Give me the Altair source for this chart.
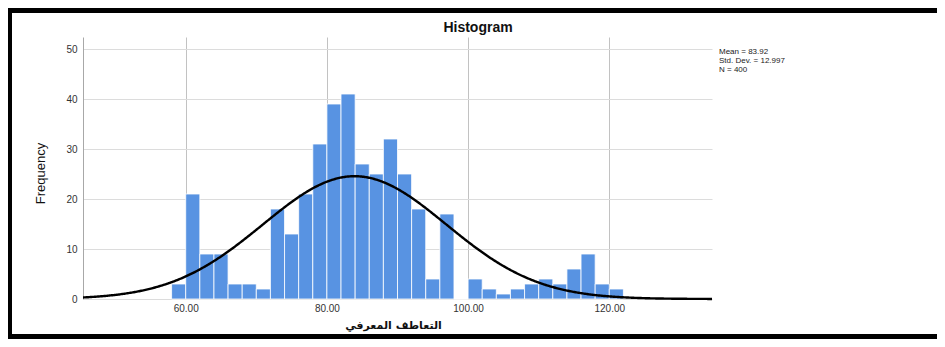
import altair as alt
import pandas as pd

# ---- data ----
bin_start = list(range(58, 122, 2))
counts = [3, 21, 9, 9, 3, 3, 2, 18, 13, 21, 31, 39, 41, 27, 25, 32,
          25, 18, 4, 17, 0, 4, 2, 1, 2, 3, 4, 3, 6, 9, 3, 2]
bin_width = 2
mean_val = 83.92
sd_val = 12.997
n_val = 400
x_ticks = [60, 80, 100, 120]
y_ticks = [0, 10, 20, 30, 40, 50]
x_domain = [45.45, 134.55]
y_domain = [0, 52.4]
stats_lines = [f"Mean = {mean_val:.2f}", f"Std. Dev. = {sd_val:.3f}", f"N = {n_val}"]
x_title = "التعاطف المعرفي"
chart_title = "Histogram"

bars_df = pd.DataFrame({
    "start": bin_start,
    "end": [s + bin_width for s in bin_start],
    "count": counts,
})

W, H = 629, 262
FONT = "Liberation Sans"

xscale = alt.Scale(domain=x_domain, nice=False, zero=False)
yscale = alt.Scale(domain=y_domain, nice=False)

bars = alt.Chart(bars_df).mark_rect(
    color="#5893e2", stroke="white", strokeWidth=0.8, opacity=1
).encode(
    x=alt.X("start:Q", scale=xscale, axis=alt.Axis(
        values=x_ticks, format=".2f", grid=True, gridColor="#c2c2c2", gridWidth=1,
        domain=False, ticks=False, labelFontSize=10, labelColor="#333333",
        labelFont=FONT, labelPadding=4,
        title=x_title, titleFont="DejaVu Sans", titleFontSize=11,
        titleFontWeight="bold", titleColor="#111111",
        titleX=310, titleY=26, titleAlign="center", titleBaseline="middle")),
    x2="end:Q",
    y=alt.Y("count:Q", scale=yscale, axis=alt.Axis(
        values=y_ticks, grid=True, gridColor="#dcdcdc", gridWidth=1,
        domain=True, domainColor="#a8a8a8", domainWidth=1, ticks=False,
        labelFontSize=10, labelColor="#333333", labelFont=FONT, labelPadding=6,
        title="Frequency", titleFont="Liberation Sans Narrow, Liberation Sans",
        titleFontSize=13, titleFontWeight="normal", titleColor="#111111",
        titleX=-43, titleY=136, titleAngle=270, titleAlign="center",
        titleBaseline="middle")),
    y2=alt.datum(0),
)

curve = alt.Chart(alt.sequence(start=45.45, stop=134.55, step=0.15, as_="xv")).transform_calculate(
    yv=f"{n_val * bin_width} * densityNormal(datum.xv, {mean_val}, {sd_val})"
).mark_line(color="black", strokeWidth=2.4).encode(
    x=alt.X("xv:Q", scale=xscale),
    y=alt.Y("yv:Q", scale=yscale),
)

one = pd.DataFrame({"k": [0]})

title_mark = alt.Chart(one).mark_text(
    text=chart_title, font=FONT, fontSize=14, fontWeight="bold", color="#111111",
    align="center", baseline="middle"
).encode(x=alt.value(395), y=alt.value(-9.5))

stats_df = pd.DataFrame({"t": ["\n".join(stats_lines)]})
stats_mark = alt.Chart(stats_df).mark_text(
    font=FONT, fontSize=8, lineHeight=9, lineBreak="\n", color="#222222",
    align="left", baseline="top"
).encode(x=alt.value(636), y=alt.value(11), text="t:N")

# decorative black frame around the picture
frame_left = alt.Chart(one).mark_rule(color="black", strokeWidth=4).encode(
    x=alt.value(-73), y=alt.value(-29), y2=alt.value(302))
frame_top = alt.Chart(one).mark_rect(color="black").encode(
    x=alt.value(-75), x2=alt.value(854), y=alt.value(-29), y2=alt.value(-24))
frame_bottom = alt.Chart(one).mark_rect(color="black").encode(
    x=alt.value(-75), x2=alt.value(854), y=alt.value(297), y2=alt.value(302))

chart = alt.layer(
    bars, curve, title_mark, stats_mark, frame_left, frame_top, frame_bottom
).properties(
    width=W, height=H,
    autosize=alt.AutoSizeParams(type="none"),
    padding={"left": 75, "top": 29, "right": 225, "bottom": 40},
    background="white",
).configure_view(stroke="transparent")

chart.save("out.html", embed_options={"renderer": "svg", "actions": False})
